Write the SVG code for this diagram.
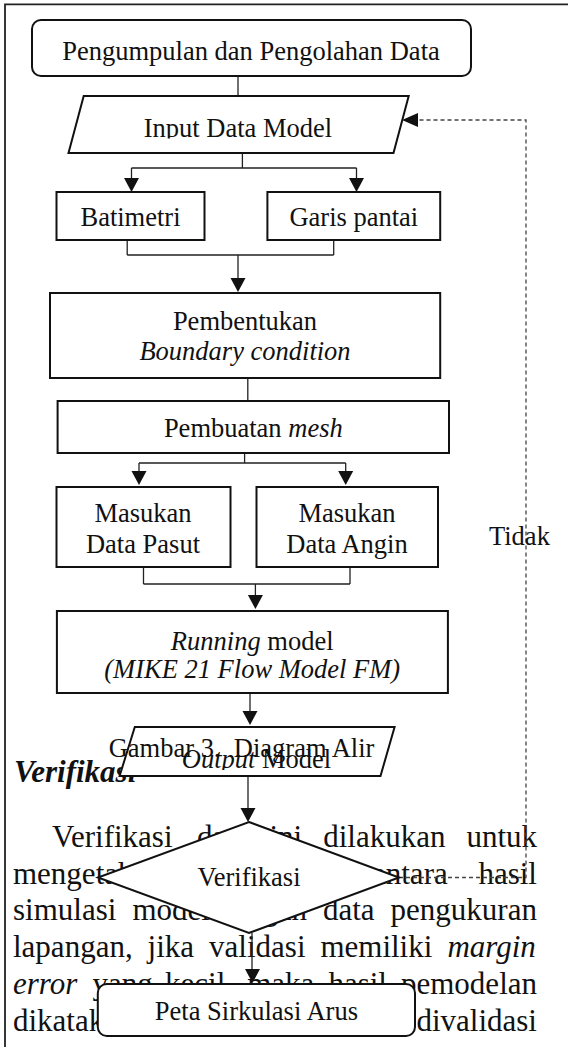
<svg xmlns="http://www.w3.org/2000/svg" width="568" height="1047" viewBox="0 0 568 1047">
<style>
text{font-family:"Liberation Serif","Times New Roman",serif;fill:#111}
.n{font-size:26.5px;text-anchor:middle}
.b{font-size:31px}
.i{font-style:italic}
.box{fill:#fff;stroke:#111;stroke-width:2}
.ln{fill:none;stroke:#222;stroke-width:1.3}
.ah{fill:#111}
.dash{fill:none;stroke:#444;stroke-width:1.3;stroke-dasharray:4 3}
</style>
<defs>
<clipPath id="c1"><rect x="0" y="0" width="568" height="138.5"/></clipPath>
<clipPath id="c2"><rect x="0" y="700" width="568" height="70"/></clipPath>
</defs>
<rect width="568" height="1047" fill="#fff"/>
<path d="M5,1047 V4.3 H568" fill="none" stroke="#222" stroke-width="1.8"/>

<g id="page-text">
<text class="b" x="14" y="782" font-weight="bold" font-style="italic">Verifikasi</text>
<text class="b" y="847"><tspan x="52">Verifikasi</tspan><tspan x="197">data</tspan><tspan x="269.5">ini</tspan><tspan x="323.2">dilakukan</tspan><tspan x="466.4">untuk</tspan></text>
<text class="b" y="883.7"><tspan x="13">mengetahui</tspan><tspan x="372">antara</tspan><tspan x="478.4">hasil</tspan></text>
<text class="b" y="920.4"><tspan x="13">simulasi</tspan><tspan x="132.4">model</tspan><tspan x="217.4">dengan</tspan><tspan x="323">data</tspan><tspan x="390.6">pengukuran</tspan></text>
<text class="b" y="957.1"><tspan x="13">lapangan,</tspan><tspan x="147.6">jika</tspan><tspan x="209.1">validasi</tspan><tspan x="320.4">memiliki</tspan><tspan x="447.4" font-style="italic">margin</tspan></text>
<text class="b" y="993.8"><tspan x="13" font-style="italic">error</tspan><tspan x="92.5">yang</tspan><tspan x="165.1">kecil,</tspan><tspan x="247.2">maka</tspan><tspan x="328.4">hasil</tspan><tspan x="401">pemodelan</tspan></text>
<text class="b" y="1030.5"><tspan x="13">dikatakan</tspan><tspan x="416.4">divalidasi</tspan></text>
</g>

<g id="connectors">
<path class="ln" d="M238,76 V96"/>
<path class="ln" d="M242.4,153 V168 M131.5,168 H356.5 M131.5,168 V180 M356.5,168 V180"/>
<polygon class="ah" points="124,178 139,178 131.5,192"/>
<polygon class="ah" points="349,178 364,178 356.5,192"/>
<path class="ln" d="M127.2,240 V255 M333.7,240 V255 M127.2,255 H333.7 M238,255 V280"/>
<polygon class="ah" points="230.5,278 245.5,278 238,292"/>
<path class="ln" d="M247.8,378 V401"/>
<path class="ln" d="M244.6,453 V463 M139,463 H345.7 M139,463 V473 M345.7,463 V473"/>
<polygon class="ah" points="131.5,471 146.5,471 139,485"/>
<polygon class="ah" points="338.2,471 353.2,471 345.7,485"/>
<path class="ln" d="M143.5,567 V584 M350,567 V584 M143.5,584 H350 M255.4,584 V597"/>
<polygon class="ah" points="247.9,595 262.9,595 255.4,609"/>
<path class="ln" d="M250,693 V713"/>
<polygon class="ah" points="242.5,711 257.5,711 250,725"/>
<path class="ln" d="M248,776 V810"/>
<polygon class="ah" points="240.5,808 255.5,808 248,822"/>
<path class="ln" d="M252,933 V971"/>
<polygon class="ah" points="245,969 260,969 252.5,983"/>
<path class="dash" d="M399,877.5 H526 V120 H417"/>
<polygon class="ah" points="402,120 418,113 418,127"/>
</g>

<g id="n-pengumpulan">
<rect class="box" x="32" y="20" width="439" height="56" rx="9"/>
<text class="n" x="251" y="59.5">Pengumpulan dan Pengolahan Data</text>
</g>
<g id="n-input">
<polygon class="box" points="83.7,96 408.7,96 393.5,153 68.5,153"/>
<text class="n" x="238" y="137" clip-path="url(#c1)">Input Data Model</text>
</g>
<g id="n-batimetri">
<rect class="box" x="56.5" y="192" width="148" height="48"/>
<text class="n" x="130.5" y="226">Batimetri</text>
</g>
<g id="n-garis">
<rect class="box" x="267.4" y="192" width="172.8" height="48"/>
<text class="n" x="353.8" y="226">Garis pantai</text>
</g>
<g id="n-boundary">
<rect class="box" x="50" y="293" width="390.2" height="85"/>
<text class="n" x="245" y="330">Pembentukan</text>
<text class="n i" x="245" y="360">Boundary condition</text>
</g>
<g id="n-mesh">
<rect class="box" x="57.6" y="401" width="391.4" height="52"/>
<text class="n" x="253.3" y="437">Pembuatan <tspan font-style="italic">mesh</tspan></text>
</g>
<g id="n-pasut">
<rect class="box" x="56.5" y="487" width="174" height="80"/>
<text class="n" x="143" y="522">Masukan</text>
<text class="n" x="143" y="553">Data Pasut</text>
</g>
<g id="n-angin">
<rect class="box" x="256.5" y="487" width="181.5" height="80"/>
<text class="n" x="347" y="522">Masukan</text>
<text class="n" x="347" y="553">Data Angin</text>
</g>
<g id="n-running">
<rect class="box" x="56.9" y="611" width="391" height="82"/>
<text class="n" x="252.2" y="650"><tspan font-style="italic">Running</tspan> model</text>
<text class="n i" x="252.2" y="678">(MIKE 21 Flow Model FM)</text>
</g>
<g id="n-output">
<polygon class="box" points="134.8,727 394.6,727 380.5,776 119.6,776"/>
<text class="n" x="256.5" y="768" clip-path="url(#c2)"><tspan font-style="italic">Output</tspan> Model</text>
</g>
<g id="caption">
<text font-size="26.5" y="757"><tspan x="108.7">Gambar 3.</tspan><tspan x="233.8">Diagram Alir</tspan></text>
</g>
<g id="n-verifikasi">
<polygon class="box" points="249,822 399,877.5 249,933 98,877.5"/>
<text class="n" x="249" y="886">Verifikasi</text>
</g>
<g id="n-peta">
<rect class="box" x="97.8" y="984" width="317.2" height="52" rx="9"/>
<text class="n" x="256.4" y="1020">Peta Sirkulasi Arus</text>
</g>
<g id="label-tidak">
<text font-size="26.5" x="489" y="545">Tidak</text>
</g>
</svg>
